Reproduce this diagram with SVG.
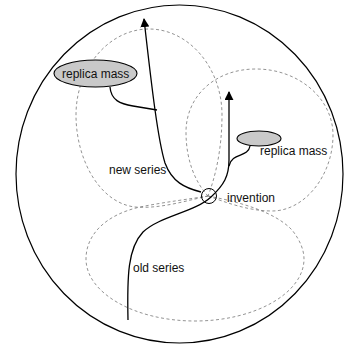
<svg xmlns="http://www.w3.org/2000/svg" width="347" height="350" viewBox="0 0 347 350">
  <defs>
    <marker id="arrow" viewBox="0 0 10 10" refX="9" refY="5" markerWidth="9" markerHeight="9" markerUnits="userSpaceOnUse" orient="auto">
      <path d="M0,0 L10,5 L0,10 z" fill="#000"/>
    </marker>
    <style>
      .outline { fill: #fff; stroke: #000; stroke-width: 1.2; }
      .region { fill: none; stroke: #777; stroke-width: 0.8; stroke-dasharray: 3 2.5; }
      .line { fill: none; stroke: #000; stroke-width: 1.3; }
      .mass { fill: #c9c9c9; stroke: #000; stroke-width: 1.1; }
      .lbl { font-family: "Liberation Sans", Arial, sans-serif; font-size: 12px; fill: #111; }
    </style>
  </defs>
  <rect width="347" height="350" fill="#fff"/>

  <!-- enclosing boundary -->
  <ellipse class="outline" cx="179.5" cy="174" rx="163.5" ry="169"/>

  <!-- dashed regions, each pinched to a point at the invention -->
  <g id="regions">
    <path class="region" d="M208,196 C185,201 160,209 135,207 C100,203 76,160 76,115 C76,68 109,29 149,29 C189,29 222,68 222,115 C222,150 215,178 208,196 Z"/>
    <path class="region" d="M208,196 C195,182 186,160 186,132 C186,97 214,69 256,69 C298,69 333,98 333,135 C333,175 305,211 272,211 C248,211 225,202 208,196 Z"/>
    <path class="region" d="M208,196 C240,202 275,212 292,230 C300,240 304,250 304,259 C304,293 255,321 195,321 C135,321 86,293 86,259 C86,235 105,215 140,207 C165,202 190,199 208,196 Z"/>
  </g>

  <!-- connectors -->
  <g id="connectors">
    <path class="line" d="M201,192 C185,188 172,182 165,163 C158,140 152,90 144,19" marker-end="url(#arrow)"/>
    <path class="line" d="M128,320 C127,275 128,248 143,232 C160,216 195,212 211,197 C224,185 229,176 229,160 L229,92" marker-end="url(#arrow)"/>
    <path class="line" d="M110,87 C111,100 120,104 133,106 L157,110"/>
    <path class="line" d="M250,146 C248,158 232,152 229,166"/>
  </g>

  <g id="invention">
    <circle cx="209" cy="196" r="7.5" fill="none" stroke="#000" stroke-width="1"/>
    <text class="lbl" x="227" y="202">invention</text>
  </g>

  <g id="mass-left">
    <ellipse class="mass" cx="95.5" cy="73.5" rx="41.5" ry="13.5"/>
    <text class="lbl" x="62" y="78">replica mass</text>
  </g>

  <g id="mass-right">
    <ellipse class="mass" cx="259" cy="138.5" rx="22" ry="7.5"/>
    <text class="lbl" x="260" y="155">replica mass</text>
  </g>

  <g id="new-series">
    <text class="lbl" x="109" y="174">new series</text>
  </g>

  <g id="old-series">
    <text class="lbl" x="133" y="272">old series</text>
  </g>
</svg>
